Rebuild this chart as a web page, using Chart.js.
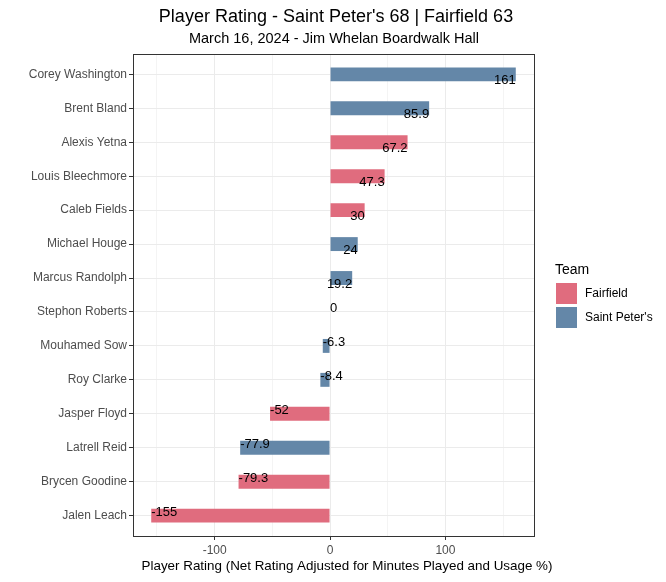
<!DOCTYPE html>
<html>
<head>
<meta charset="utf-8">
<script src="https://cdn.jsdelivr.net/npm/chart.js@4"></script>
<style>
  html, body { margin: 0; padding: 0; background: #fff; }
  #wrap { width: 666px; height: 582px; }
</style>
</head>
<body>
<div id="wrap"><canvas id="ratingChart" width="666" height="582"></canvas></div>
<script>
// data, top row first
const players = ['Corey Washington', 'Brent Bland', 'Alexis Yetna', 'Louis Bleechmore', 'Caleb Fields',
    'Michael Houge', 'Marcus Randolph', 'Stephon Roberts', 'Mouhamed Sow', 'Roy Clarke',
    'Jasper Floyd', 'Latrell Reid', 'Brycen Goodine', 'Jalen Leach'];
const ratings = [161, 85.9, 67.2, 47.3, 30, 24, 19.2, 0, -6.3, -8.4, -52, -77.9, -79.3, -155];
const teams = ["Saint Peter's", "Saint Peter's", 'Fairfield', 'Fairfield', 'Fairfield',
    "Saint Peter's", "Saint Peter's", "Saint Peter's", "Saint Peter's", "Saint Peter's",
    'Fairfield', "Saint Peter's", 'Fairfield', 'Fairfield'];
const teamNames = ['Fairfield', "Saint Peter's"];
const teamColors = ['#E06C7E', '#6487A8'];
const xGrid = [-150, -100, -50, 0, 50, 100, 150];
const xTicks = [-100, 0, 100];

const FONT = "'Liberation Sans', Arial, sans-serif";

const datasets = teamNames.map((team, t) => ({
    label: team,
    data: players.map((p, i) => ({ x: ratings[i], y: i })).filter((d, i) => teams[i] === team),
    backgroundColor: teamColors[t],
    borderWidth: 0,
    barPercentage: 0.41,
    categoryPercentage: 1,
    grouped: false
}));

// value labels at bar ends
const valueLabels = {
    id: 'valueLabels',
    afterDatasetsDraw(chart) {
        const { ctx, scales: { x, y } } = chart;
        ctx.save();
        ctx.font = '13px ' + FONT;
        ctx.fillStyle = '#000';
        ratings.forEach((v, i) => {
            const px = x.getPixelForValue(v);
            const py = y.getPixelForValue(i);
            if (v > 0) {
                ctx.textAlign = 'right';
                ctx.textBaseline = 'top';
            } else {
                ctx.textAlign = 'left';
                ctx.textBaseline = 'alphabetic';
            }
            ctx.fillText(String(v), px, py);
        });
        ctx.restore();
    }
};

// titles, panel border, legend
const decorations = {
    id: 'decorations',
    afterDraw(chart) {
        const { ctx, chartArea: a } = chart;
        ctx.save();
        ctx.strokeStyle = '#333333';
        ctx.lineWidth = 1;
        ctx.strokeRect(Math.round(a.left) + 0.5, Math.round(a.top) + 0.5,
            Math.round(a.right - a.left), Math.round(a.bottom - a.top));

        ctx.fillStyle = '#000';
        ctx.textAlign = 'center';
        ctx.textBaseline = 'middle';
        ctx.font = '18px ' + FONT;
        ctx.fillText("Player Rating - Saint Peter's 68 | Fairfield 63", 336, 17);
        ctx.font = '14.5px ' + FONT;
        ctx.fillText('March 16, 2024 - Jim Whelan Boardwalk Hall', 334, 39);
        ctx.font = '13.4px ' + FONT;
        ctx.fillText('Player Rating (Net Rating Adjusted for Minutes Played and Usage %)', 347, 566);

        const lx = a.right + 21;
        ctx.textAlign = 'left';
        ctx.font = '14px ' + FONT;
        ctx.fillText('Team', lx, 270);
        ctx.font = '12px ' + FONT;
        teamNames.forEach((team, t) => {
            const top = 283 + t * 24;
            ctx.fillStyle = teamColors[t];
            ctx.fillRect(lx + 1, top, 21, 21);
            ctx.fillStyle = '#000';
            ctx.fillText(team, lx + 30, top + 11);
        });
        ctx.restore();
    }
};

new Chart(document.getElementById('ratingChart'), {
    type: 'bar',
    data: { datasets },
    options: {
        indexAxis: 'y',
        responsive: false,
        animation: false,
        layout: { padding: { left: 0, right: 132, top: 54, bottom: 0 } },
        scales: {
            x: {
                type: 'linear',
                min: -170.8,
                max: 176.8,
                afterFit: s => { s.height = 46; },
                afterBuildTicks: s => { s.ticks = xGrid.map(v => ({ value: v })); },
                ticks: {
                    autoSkip: false,
                    maxRotation: 0,
                    padding: 3,
                    color: '#4D4D4D',
                    font: { family: FONT, size: 12 },
                    callback: (v, i) => xTicks.includes(xGrid[i]) ? String(xGrid[i]) : ''
                },
                grid: {
                    color: xGrid.map(v => xTicks.includes(v) ? '#EBEBEB' : '#F4F4F4'),
                    tickColor: xGrid.map(v => xTicks.includes(v) ? '#333333' : 'rgba(0,0,0,0)'),
                    tickLength: 4
                },
                border: { display: false }
            },
            y: {
                type: 'linear',
                reverse: true,
                offset: false,
                min: -0.6,
                max: 13.6,
                afterFit: s => { s.width = 133; },
                afterBuildTicks: s => { s.ticks = players.map((p, i) => ({ value: i })); },
                ticks: {
                    autoSkip: false,
                    padding: 2,
                    color: '#4D4D4D',
                    font: { family: FONT, size: 12 },
                    callback: (v, i) => players[i]
                },
                grid: { offset: false, color: '#EBEBEB', tickColor: '#333333', tickLength: 4 },
                border: { display: false }
            }
        },
        plugins: {
            legend: { display: false },
            tooltip: { enabled: false }
        }
    },
    plugins: [valueLabels, decorations]
});
</script>
</body>
</html>
